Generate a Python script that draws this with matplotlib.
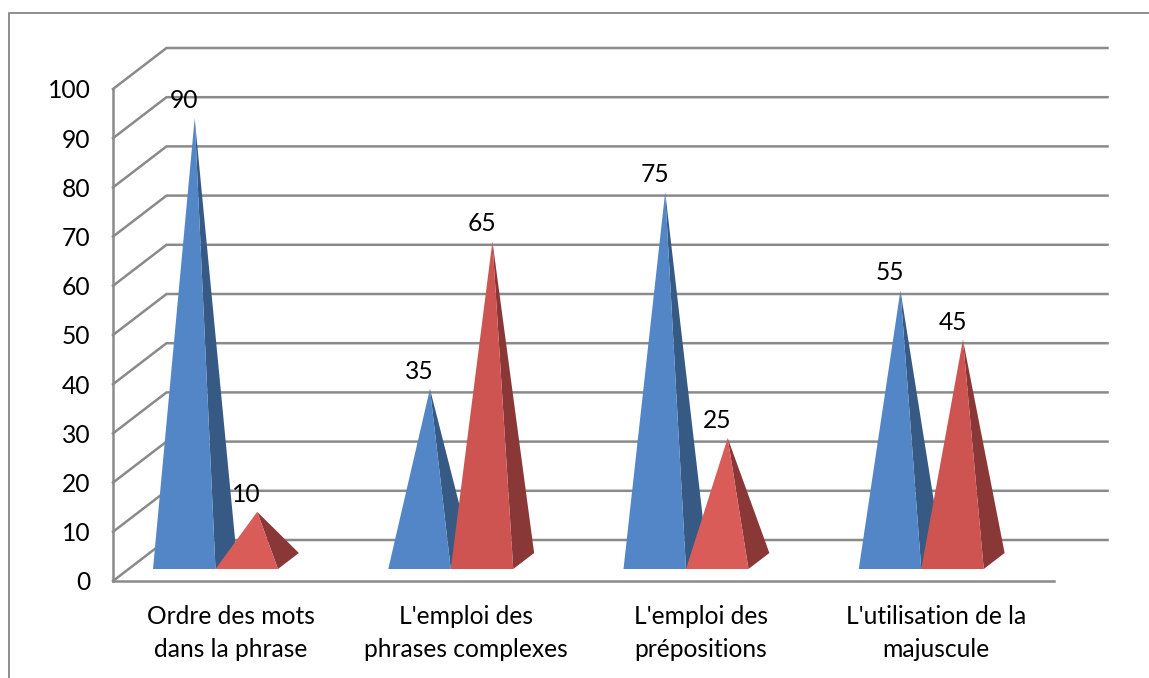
import matplotlib
matplotlib.use("Agg")
import matplotlib.pyplot as plt
from matplotlib.patches import Polygon
from matplotlib.lines import Line2D

plt.rcParams['font.family'] = ['Lato', 'DejaVu Sans']

categories = ["Ordre des mots\ndans la phrase", "L'emploi des\nphrases complexes",
              "L'emploi des\nprépositions", "L'utilisation de la\nmajuscule"]
serie_bleue = [90, 35, 75, 55]
serie_rouge = [10, 65, 25, 45]
y_ticks = list(range(0, 101, 10))

W, H = 1149, 678
L, R, T, B = 113, 1054, 89, 581
GRAY = "#8a8a8a"
TEXT = "#000000"
FS = 17.7

fig = plt.figure(figsize=(W / 100, H / 100), dpi=100, facecolor="white")
ax = fig.add_axes([L / W, 1 - B / H, (R - L) / W, (B - T) / H])
ax.set_xlim(0, len(categories))
ax.set_ylim(0, 100)
ax.patch.set_visible(False)

# outer chart frame
fig.add_artist(Line2D([8.7 / W, 8.7 / W, 1], [0, 1 - 12.7 / H, 1 - 12.7 / H],
                      transform=fig.transFigure, color="#868686", lw=1.3))

px_x = len(categories) / (R - L)   # data units per pixel
px_y = 100 / (B - T)
DX = 53.5 * px_x                   # wall depth
DY = 41 * px_y


def proj(x, v, d):
    return (x + d * DX, v + d * DY)


# back wall, side wall and floor gridlines
for v in y_ticks:
    p0, p1 = proj(0, v, 0), proj(0, v, 1)
    p2 = proj(len(categories), v, 1)
    ax.plot([p0[0], p1[0], p2[0]], [p0[1], p1[1], p2[1]], color=GRAY, lw=1.8,
            clip_on=False, zorder=1, solid_joinstyle="miter")
for s in ("top", "right"):
    ax.spines[s].set_visible(False)
for s in ("left", "bottom"):
    ax.spines[s].set_color(GRAY)
    ax.spines[s].set_linewidth(1.8)
    ax.spines[s].set_zorder(1.5)

ax.set_xticks([i + 0.5 for i in range(len(categories))])
ax.set_xticklabels(categories, fontsize=FS, color=TEXT, linespacing=1.53)
ax.set_yticks(y_ticks)
ax.set_yticklabels([str(v) for v in y_ticks], fontsize=FS, color=TEXT)
ax.tick_params(axis="x", length=0, pad=17.2)
ax.tick_params(axis="y", length=0, pad=16.3)

BAR_W = 62.5 * px_x
D0, D1 = 12 / 41, 28 / 41
DM = (D0 + D1) / 2
START = 40 * px_x


def pyramid(x0, v, front, side, z):
    a = proj(x0, 0, D0)
    b = proj(x0 + BAR_W, 0, D0)
    c = proj(x0 + BAR_W, 0, D1)
    apex = proj(x0 + BAR_W / 2, v, DM)
    ax.add_patch(Polygon([a, b, apex], closed=True, fc=front, ec="none", clip_on=False, zorder=z + 0.1))
    ax.add_patch(Polygon([b, c, apex], closed=True, fc=side, ec="none", clip_on=False, zorder=z))
    xc = (a[0] + b[0]) / 2
    ax.annotate(str(v), xy=(xc, apex[1]), xytext=(0, 12.6), textcoords="offset points",
                ha="center", va="center", fontsize=FS, color=TEXT,
                annotation_clip=False, zorder=20)


for i, (vb, vr) in enumerate(zip(serie_bleue, serie_rouge)):
    x0 = i + START - D0 * DX
    pyramid(x0, vb, "#5386c6", "#375a84", 3 + i)
    pyramid(x0 + BAR_W, vr, "#cd5451" if vr > 30 else "#d95c59", "#8a3837", 3.5 + i)

fig.savefig("out.png", dpi=100, facecolor="white")
